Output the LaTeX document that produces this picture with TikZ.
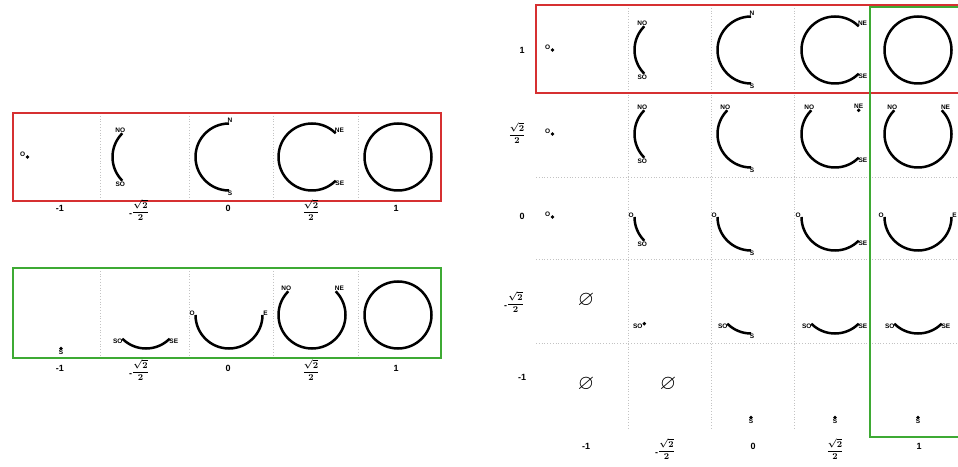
\documentclass[tikz,border=0pt]{standalone}
\usepackage{fontspec}
\setmainfont{Liberation Sans}
\usepackage{amsmath,amssymb}
\usetikzlibrary{calc}
\definecolor{boxred}{RGB}{214,48,49}
\definecolor{boxgreen}{RGB}{62,170,52}
\definecolor{sepgray}{RGB}{195,195,195}

\newcommand{\cellr}{33.5}
% arc of the unit circle of a cell, from angle #2 to angle #3
\newcommand{\cellarc}[3]{\draw[curve] ($(#1)+(#2:\cellr)$) arc[start angle=#2, end angle=#3, radius=\cellr];}
% lone point of a cell
\newcommand{\celldot}[2]{\fill ($(#1)+(#2:\cellr)$) circle[radius=1.9];}
% name of an end point
\newcommand{\ptlab}[4]{\node[lab,#3] (#1-#4) at ($(#1)+(#2:\cellr)$) {#4};}
% sqrt(2)/2 as printed
\newcommand{\half}{$\dfrac{\sqrt{\mathbf{2}}}{\mathbf{2}}$}
\newcommand{\mhalf}{\raisebox{-2.5pt}{-}$\dfrac{\sqrt{\mathbf{2}}}{\mathbf{2}}$}

\begin{document}
\begin{tikzpicture}[x=1pt,y=1pt,
  curve/.style={line width=2.5pt},
  sep/.style={draw=sepgray,dotted,line width=0.8pt},
  redbox/.style={draw=boxred,line width=1.6pt},
  greenbox/.style={draw=boxgreen,line width=1.6pt},
  lab/.style={font=\fontsize{6.5}{7}\selectfont\bfseries,inner sep=0.6pt},
  axlab/.style={font=\fontsize{9}{10}\selectfont\bfseries\boldmath,inner sep=1pt},
  empt/.style={font=\fontsize{21}{22}\selectfont,inner sep=0pt},
  atNO/.style={anchor=south,xshift=-2pt},
  atSO/.style={anchor=north,xshift=-2pt},
  atSOl/.style={anchor=north east,xshift=1pt,yshift=1pt},
  atN/.style={anchor=south,xshift=1pt},
  atS/.style={anchor=north,xshift=1pt},
  atNE/.style={anchor=south west,xshift=-1.5pt},
  atSE/.style={anchor=north west,xshift=-1pt,yshift=1pt},
  atO/.style={anchor=east,yshift=2pt},
  atE/.style={anchor=west,yshift=2pt},
  atOd/.style={anchor=south east,xshift=-1.5pt},
  atSd/.style={anchor=north,yshift=-0.5pt},
  atNEd/.style={anchor=south,yshift=1pt},
  atSOd/.style={anchor=north east,xshift=-1pt,yshift=1pt}
]
\useasboundingbox (0,0) rectangle (958,466);
\clip (0,0) rectangle (958,466);

% cell centres
\foreach \x [count=\i] in {61,146,229,312,398} {
  \coordinate (r\i) at (\x,309);
  \coordinate (g\i) at (\x,151);
}
\foreach \y [count=\j] in {416,332,249,166,82}
  \foreach \x [count=\i] in {586,668,751,835,918}
    \coordinate (m\j\i) at (\x,\y);

% separators
\foreach \x in {100,189,273,358} {
  \draw[sep] (\x,353) -- (\x,265);
  \draw[sep] (\x,198) -- (\x,108);
}
\foreach \y in {373,289,207,123}
  \draw[sep] (536,\y) -- (958,\y);
\foreach \x in {628,711,794,870}
  \draw[sep] (\x,461) -- (\x,36);

% frames
\draw[redbox] (13,353) rectangle (441,265);
\draw[greenbox] (13,198) rectangle (441,108);
\draw[redbox] (536,461) rectangle (980,373);
\draw[greenbox] (870,459) rectangle (980,29);

% left, x <= a
\celldot{r1}{180} \ptlab{r1}{180}{atOd}{O}
\cellarc{r2}{135}{225} \ptlab{r2}{135}{atNO}{NO} \ptlab{r2}{225}{atSO}{SO}
\cellarc{r3}{90}{270} \ptlab{r3}{90}{atN}{N} \ptlab{r3}{270}{atS}{S}
\cellarc{r4}{45}{315} \ptlab{r4}{45}{atNE}{NE} \ptlab{r4}{315}{atSE}{SE}
\draw[curve] (r5) circle[radius=\cellr];

% left, y <= b
\celldot{g1}{270} \ptlab{g1}{270}{atSd}{S}
\cellarc{g2}{225}{315} \ptlab{g2}{225}{atSOl}{SO} \ptlab{g2}{315}{atSE}{SE}
\cellarc{g3}{180}{360} \ptlab{g3}{180}{atO}{O} \ptlab{g3}{0}{atE}{E}
\cellarc{g4}{135}{405} \ptlab{g4}{135}{atNO}{NO} \ptlab{g4}{45}{atNE}{NE}
\draw[curve] (g5) circle[radius=\cellr];

% grid, row b = 1
\celldot{m11}{180} \ptlab{m11}{180}{atOd}{O}
\cellarc{m12}{135}{225} \ptlab{m12}{135}{atNO}{NO} \ptlab{m12}{225}{atSO}{SO}
\cellarc{m13}{90}{270} \ptlab{m13}{90}{atN}{N} \ptlab{m13}{270}{atS}{S}
\cellarc{m14}{45}{315} \ptlab{m14}{45}{atNE}{NE} \ptlab{m14}{315}{atSE}{SE}
\draw[curve] (m15) circle[radius=\cellr];

% row b = sqrt2/2
\celldot{m21}{180} \ptlab{m21}{180}{atOd}{O}
\cellarc{m22}{135}{225} \ptlab{m22}{135}{atNO}{NO} \ptlab{m22}{225}{atSO}{SO}
\cellarc{m23}{135}{270} \ptlab{m23}{135}{atNO}{NO} \ptlab{m23}{270}{atS}{S}
\cellarc{m24}{135}{315} \ptlab{m24}{135}{atNO}{NO} \ptlab{m24}{315}{atSE}{SE}
\celldot{m24}{45} \ptlab{m24}{45}{atNEd}{NE}
\cellarc{m25}{135}{405} \ptlab{m25}{135}{atNO}{NO} \ptlab{m25}{45}{atNE}{NE}

% row b = 0
\celldot{m31}{180} \ptlab{m31}{180}{atOd}{O}
\cellarc{m32}{180}{225} \ptlab{m32}{180}{atO}{O} \ptlab{m32}{225}{atSO}{SO}
\cellarc{m33}{180}{270} \ptlab{m33}{180}{atO}{O} \ptlab{m33}{270}{atS}{S}
\cellarc{m34}{180}{315} \ptlab{m34}{180}{atO}{O} \ptlab{m34}{315}{atSE}{SE}
\cellarc{m35}{180}{360} \ptlab{m35}{180}{atO}{O} \ptlab{m35}{0}{atE}{E}

% row b = -sqrt2/2
\node[empt] (m41-e) at (m41) {$\varnothing$};
\celldot{m42}{225} \ptlab{m42}{225}{atSOd}{SO}
\cellarc{m43}{225}{270} \ptlab{m43}{225}{atSOl}{SO} \ptlab{m43}{270}{atS}{S}
\cellarc{m44}{225}{315} \ptlab{m44}{225}{atSOl}{SO} \ptlab{m44}{315}{atSE}{SE}
\cellarc{m45}{225}{315} \ptlab{m45}{225}{atSOl}{SO} \ptlab{m45}{315}{atSE}{SE}

% row b = -1
\node[empt] (m51-e) at (m51) {$\varnothing$};
\node[empt] (m52-e) at (m52) {$\varnothing$};
\foreach \i in {3,4,5} {
  \celldot{m5\i}{270} \ptlab{m5\i}{270}{atSd}{S}
}

% values of a under the left rows
\foreach \row/\y in {r/256,g/96} {
  \node[axlab] (\row a1) at (60,\y+2) {-1};
  \node[axlab] (\row a2) at (139,\y) {\mhalf};
  \node[axlab] (\row a3) at (228,\y+2) {0};
  \node[axlab] (\row a4) at (311,\y) {\half};
  \node[axlab] (\row a5) at (396,\y+2) {1};
}

% values of a and b round the grid
\node[axlab] (ca1) at (586,20) {-1};
\node[axlab] (ca2) at (665,17) {\mhalf};
\node[axlab] (ca3) at (753,20) {0};
\node[axlab] (ca4) at (835,17) {\half};
\node[axlab] (ca5) at (919,20) {1};
\node[axlab] (rb1) at (522,416) {1};
\node[axlab] (rb2) at (517,333) {\half};
\node[axlab] (rb3) at (522,250) {0};
\node[axlab] (rb4) at (514,164) {\mhalf};
\node[axlab] (rb5) at (522,89) {-1};
\end{tikzpicture}
\end{document}
